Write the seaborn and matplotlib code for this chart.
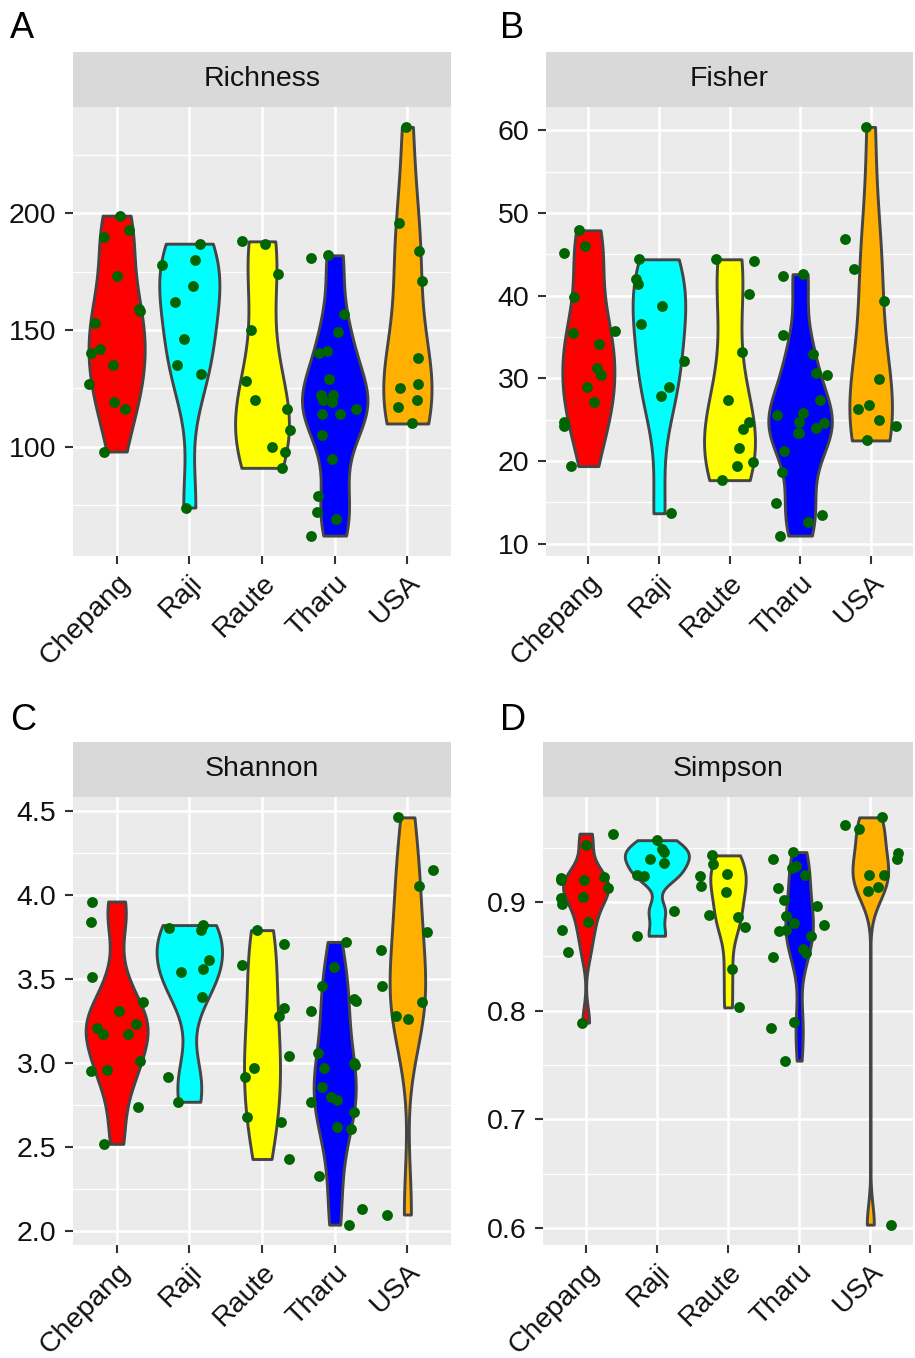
import numpy as np
import pandas as pd
import seaborn as sns
import matplotlib.pyplot as plt
import matplotlib.ticker as mticker

groups = ["Chepang", "Raji", "Raute", "Tharu", "USA"]
colors = ["#FF0000", "#00FFFF", "#FFFF00", "#0000FF", "#FFB000"]

richness = {
    "Chepang": [199, 193, 190, 173, 159, 158, 153, 142, 140, 135, 127, 119, 116, 98],
    "Raji": [187, 180, 178, 169, 162, 146, 135, 131, 74],
    "Raute": [188, 187, 174, 150, 128, 120, 116, 107, 100, 98, 91],
    "Tharu": [182, 181, 157, 149, 141, 140, 129, 122, 122, 120, 119, 116, 114, 114,
              105, 95, 79, 72, 69, 62],
    "USA": [237, 196, 184, 171, 138, 127, 125, 120, 117, 110],
}
fisher = {
    "Chepang": [47.9, 46.0, 45.1, 39.9, 35.7, 35.5, 34.1, 31.3, 30.4, 29.0, 27.1, 24.7, 24.2, 19.4],
    "Raji": [44.4, 42.0, 41.4, 38.7, 36.6, 32.1, 29.0, 27.9, 13.7],
    "Raute": [44.4, 44.2, 40.2, 33.2, 27.4, 24.7, 23.9, 21.6, 19.9, 19.4, 17.7],
    "Tharu": [42.6, 42.4, 35.2, 32.9, 30.7, 30.4, 27.4, 25.8, 25.6, 24.7, 24.6, 24.0, 23.4, 23.4,
              21.2, 18.7, 14.9, 13.5, 12.6, 11.0],
    "USA": [60.4, 46.9, 43.2, 39.3, 29.9, 26.8, 26.3, 25.0, 24.3, 22.5],
}
shannon = {
    "Chepang": [3.96, 3.84, 3.51, 3.36, 3.31, 3.23, 3.21, 3.17, 3.17, 3.01, 2.96, 2.95, 2.74, 2.52],
    "Raji": [3.82, 3.80, 3.79, 3.61, 3.56, 3.54, 3.39, 2.92, 2.77],
    "Raute": [3.79, 3.71, 3.58, 3.33, 3.28, 3.04, 2.97, 2.92, 2.68, 2.65, 2.43],
    "Tharu": [3.72, 3.57, 3.46, 3.38, 3.37, 3.31, 3.06, 3.00, 2.99, 2.97, 2.86, 2.80, 2.78, 2.77,
              2.71, 2.62, 2.61, 2.33, 2.13, 2.04],
    "USA": [4.46, 4.15, 4.05, 3.78, 3.67, 3.46, 3.36, 3.28, 3.26, 2.10],
}
simpson = {
    "Chepang": [0.963, 0.953, 0.923, 0.922, 0.920, 0.920, 0.913, 0.905, 0.904, 0.898, 0.882,
                0.874, 0.854, 0.789],
    "Raji": [0.957, 0.949, 0.946, 0.940, 0.936, 0.925, 0.924, 0.892, 0.869],
    "Raute": [0.943, 0.935, 0.926, 0.924, 0.915, 0.909, 0.888, 0.886, 0.877, 0.838, 0.803],
    "Tharu": [0.946, 0.940, 0.933, 0.931, 0.925, 0.913, 0.902, 0.896, 0.887, 0.881, 0.879,
              0.874, 0.873, 0.869, 0.857, 0.853, 0.849, 0.790, 0.784, 0.754],
    "USA": [0.978, 0.971, 0.967, 0.945, 0.940, 0.925, 0.925, 0.914, 0.910, 0.603],
}

panels = [
    ("A", "Richness", richness, 50, "%d"),
    ("B", "Fisher", fisher, 10, "%d"),
    ("C", "Shannon", shannon, 0.5, "%.1f"),
    ("D", "Simpson", simpson, 0.1, "%.1f"),
]

W, H = 915, 1358
# plot box in pixels: left, right, top, bottom ; strip top
boxes = [
    (73, 451, 106.5, 556, 52),
    (546, 913, 106.5, 556, 52),
    (73, 451, 797, 1245, 742),
    (543, 913, 797, 1245, 742),
]
letter_pos = [(10, 38), (500, 38), (10, 730), (500, 730)]


def nrd0(kde):
    # R's default bandwidth (bw.nrd0) as a factor of the sample sd
    x = kde.dataset[0]
    sd = x.std(ddof=1)
    iqr = np.subtract(*np.percentile(x, [75, 25]))
    lo = min(sd, iqr / 1.34) if iqr > 0 else sd
    return 0.9 * lo * len(x) ** -0.2 / sd


plt.rcParams['font.family'] = ['Liberation Sans', 'DejaVu Sans']
np.random.seed(3)

fig = plt.figure(figsize=(W / 100, H / 100), dpi=100)

for (letter, title, data, step, fmt), (l, r, t, b, st), (lx, ly) in zip(panels, boxes, letter_pos):
    df = pd.DataFrame([(g, v) for g in groups for v in data[g]], columns=["group", "value"])

    ax = fig.add_axes([l / W, 1 - b / H, (r - l) / W, (b - t) / H])
    ax.set_facecolor("#EBEBEB")
    sns.violinplot(data=df, x="group", y="value", hue="group", order=groups,
                   hue_order=groups, palette=colors, cut=0, density_norm="area",
                   common_norm=True, inner=None, width=0.9, bw_method=nrd0,
                   gridsize=512, linewidth=2.1, linecolor="#454545", saturation=1,
                   legend=False, ax=ax)
    sns.stripplot(data=df, x="group", y="value", order=groups, color="#006400",
                  jitter=0.4, size=7.8, linewidth=0, ax=ax, zorder=3)

    vals = df["value"]
    rng = vals.max() - vals.min()
    ax.set_ylim(vals.min() - 0.05 * rng, vals.max() + 0.05 * rng)
    ax.set_xlim(-0.6, 4.6)
    ax.yaxis.set_major_locator(mticker.MultipleLocator(step))
    ax.yaxis.set_minor_locator(mticker.MultipleLocator(step / 2))
    ax.yaxis.set_major_formatter(mticker.FormatStrFormatter(fmt))
    ax.set_axisbelow(True)
    ax.grid(which="major", color="white", linewidth=1.8)
    ax.grid(which="minor", axis="y", color="white", linewidth=0.9)
    ax.tick_params(which="minor", length=0)
    ax.tick_params(which="major", length=6, width=1.5, color="#333333",
                   labelsize=20.5, labelcolor="#111111")
    ax.tick_params(axis="y", pad=6)
    ax.tick_params(axis="x", pad=4)
    for s in ax.spines.values():
        s.set_visible(False)
    ax.set_xlabel("")
    ax.set_ylabel("")
    ax.set_xticks(range(len(groups)))
    ax.set_xticklabels(groups, rotation=45, ha="right", va="top", rotation_mode="anchor")

    sax = fig.add_axes([l / W, 1 - t / H, (r - l) / W, (t - st) / H])
    sax.set_facecolor("#D9D9D9")
    sax.set_xticks([])
    sax.set_yticks([])
    for s in sax.spines.values():
        s.set_visible(False)
    sax.text(0.5, 0.5, title, ha="center", va="center", fontsize=20.5,
             color="#111111", transform=sax.transAxes)

    fig.text(lx / W, 1 - ly / H, letter, fontsize=26, ha="left", va="baseline")

fig.savefig("out.png", dpi=100)
